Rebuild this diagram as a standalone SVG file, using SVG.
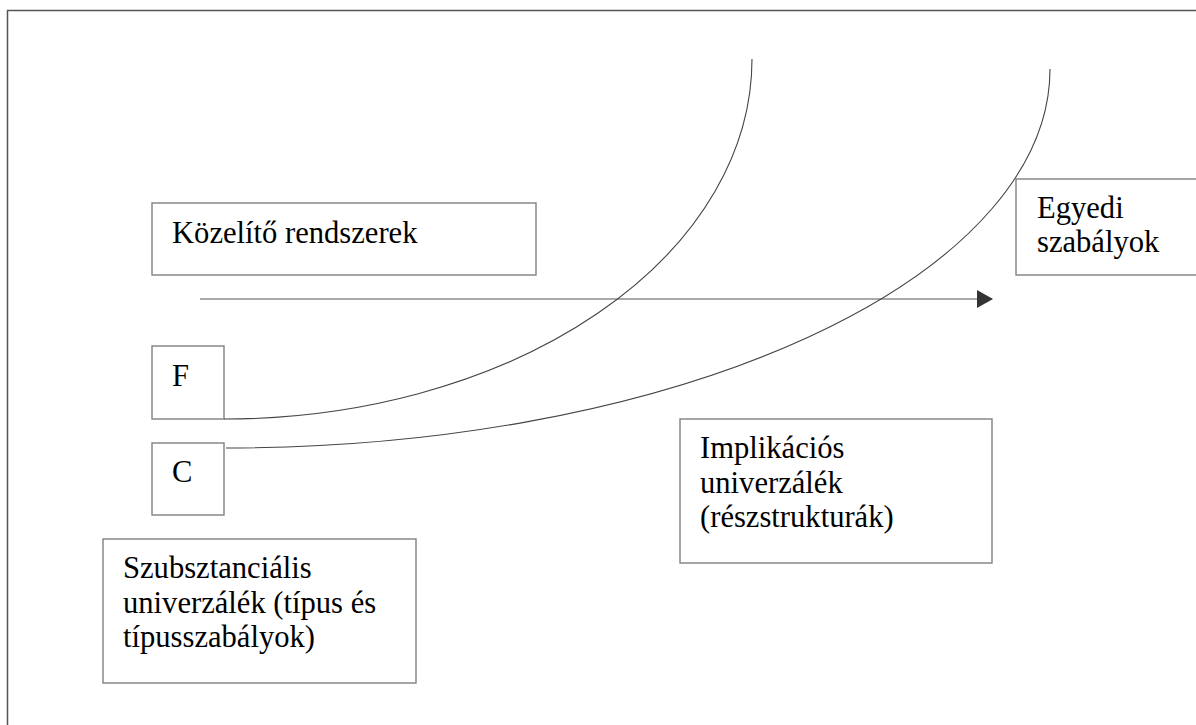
<svg xmlns="http://www.w3.org/2000/svg" width="1196" height="725" viewBox="0 0 1196 725">
<defs>
<style>
.box{fill:#fff;stroke:#777;stroke-width:1.3}
.t{font-family:"Liberation Serif","Times New Roman",serif;font-size:30.6px;fill:#000}
.c{fill:none;stroke:#444;stroke-width:1.1}
</style>
<marker id="ah" markerWidth="16" markerHeight="18" refX="15" refY="9" orient="auto" markerUnits="userSpaceOnUse">
<path d="M0,0 L16,9 L0,18 Z" fill="#333"/>
</marker>
</defs>
<rect x="0" y="0" width="1196" height="725" fill="#fff"/>
<rect id="frame" x="7.5" y="10.5" width="1200" height="730" fill="none" stroke="#555" stroke-width="1.5"/>
<g id="kozelito"><rect class="box" x="152" y="203" width="384" height="72"/><text class="t" x="172" y="243">Közelítő rendszerek</text></g>
<g id="egyedi"><rect class="box" x="1016" y="179" width="200" height="96"/><text class="t" x="1037" y="218">Egyedi</text><text class="t" x="1037" y="252">szabályok</text></g>
<g id="F"><rect class="box" x="152" y="346" width="72" height="73"/><text class="t" x="172" y="386">F</text></g>
<g id="C"><rect class="box" x="152" y="443" width="72" height="72"/><text class="t" x="172" y="482">C</text></g>
<g id="implikacios"><rect class="box" x="680" y="419" width="312" height="144"/><text class="t" x="700" y="458">Implikációs</text><text class="t" x="700" y="493">univerzálék</text><text class="t" x="700" y="527">(részstrukturák)</text></g>
<g id="szubsztancialis"><rect class="box" x="103" y="539" width="313" height="144"/><text class="t" x="123" y="578">Szubsztanciális</text><text class="t" x="123" y="613">univerzálék (típus és</text><text class="t" x="123" y="647">típusszabályok)</text></g>
<g id="connectors">
<line x1="200" y1="299" x2="992" y2="299" stroke="#555" stroke-width="1.2" marker-end="url(#ah)"/>
<path class="c" d="M224,419 A528,360 0 0 0 752,59"/>
<path class="c" d="M226,448 A824,379 0 0 0 1050,69"/>
</g>
</svg>
